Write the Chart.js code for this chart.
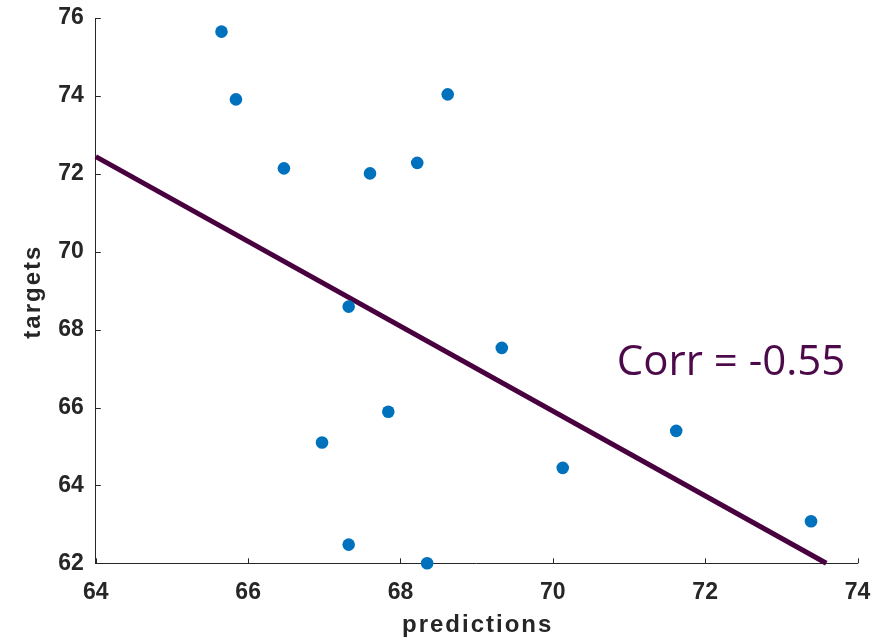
<!DOCTYPE html>
<html>
<head>
<meta charset="utf-8">
<script src="https://cdn.jsdelivr.net/npm/chart.js@4/dist/chart.umd.min.js"></script>
<style>
  html, body { margin: 0; padding: 0; background: #ffffff; }
  #wrap { width: 892px; height: 637px; position: relative; }
</style>
</head>
<body>
<div id="wrap"><canvas id="c" width="892" height="637"></canvas></div>
<script>
// Model predictions vs. observed targets
const predictions = [65.65, 65.84, 66.47, 67.60, 68.22, 68.62, 67.32, 69.33, 67.84, 66.97, 67.32, 68.35, 70.13, 71.62, 73.39];
const targets     = [75.65, 73.91, 72.14, 72.01, 72.28, 74.04, 68.59, 67.53, 65.89, 65.10, 62.48, 62.00, 64.45, 65.40, 63.08];

// Fitted trend line end points
const fitX = [64.0, 73.59];
const fitY = [72.44, 62.0];

// Axis tick values
const xTicks = [64, 66, 68, 70, 72, 74];
const yTicks = [62, 64, 66, 68, 70, 72, 74, 76];

// Axis titles
const xTitle = 'predictions';
const yTitle = 'targets';

// Annotation
const corrLabel = 'Corr = -0.55';
const corrAnchor = { x: 70.84, y: 66.83 };

const AXIS_COLOR = '#262626';
const SANS = "'Liberation Sans', Arial, Helvetica, sans-serif";
const TICK_FONT = { family: SANS, size: 23, weight: 'bold' };

const scatterPoints = predictions.map((p, i) => ({ x: p, y: targets[i] }));
const fitPoints = fitX.map((x, i) => ({ x: x, y: fitY[i] }));

// Short inward tick marks along the left and bottom axes
const inwardTicks = {
  id: 'inwardTicks',
  afterDraw(chart) {
    const ctx = chart.ctx;
    const xs = chart.scales.x, ys = chart.scales.y;
    const len = 5;
    ctx.save();
    ctx.strokeStyle = AXIS_COLOR;
    ctx.lineWidth = 1;
    ctx.beginPath();
    xTicks.forEach(v => {
      const px = Math.round(xs.getPixelForValue(v)) + 0.5;
      ctx.moveTo(px, ys.bottom);
      ctx.lineTo(px, ys.bottom - len);
    });
    yTicks.forEach(v => {
      const py = Math.round(ys.getPixelForValue(v)) + 0.5;
      ctx.moveTo(xs.left, py);
      ctx.lineTo(xs.left + len, py);
    });
    ctx.stroke();
    ctx.restore();
  }
};

// Letter-spaced bold axis titles
const axisTitles = {
  id: 'axisTitles',
  afterDraw(chart) {
    const ctx = chart.ctx;
    const area = chart.chartArea;
    ctx.save();
    ctx.font = 'bold 24px ' + SANS;
    ctx.fillStyle = AXIS_COLOR;
    ctx.letterSpacing = '2px';
    ctx.textAlign = 'center';
    ctx.textBaseline = 'alphabetic';
    ctx.fillText(xTitle, (area.left + area.right) / 2 + 1, 632);
    ctx.translate(40, (area.top + area.bottom) / 2 + 1);
    ctx.rotate(-Math.PI / 2);
    ctx.fillText(yTitle, 0, 0);
    ctx.restore();
  }
};

// Correlation text placed in data space
const corrText = {
  id: 'corrText',
  afterDraw(chart) {
    const ctx = chart.ctx;
    const px = chart.scales.x.getPixelForValue(corrAnchor.x);
    const py = chart.scales.y.getPixelForValue(corrAnchor.y);
    ctx.save();
    ctx.font = "42px 'Open Sans', 'Noto Sans', sans-serif";
    ctx.fillStyle = '#4D0A4B';
    ctx.textAlign = 'left';
    ctx.textBaseline = 'alphabetic';
    ctx.fillText(corrLabel, px, py);
    ctx.restore();
  }
};

new Chart(document.getElementById('c'), {
  data: {
    datasets: [
      {
        type: 'line',
        data: fitPoints,
        borderColor: '#48003F',
        borderWidth: 5,
        pointRadius: 0,
        fill: false,
        tension: 0,
        order: 2,
        clip: false
      },
      {
        type: 'scatter',
        data: scatterPoints,
        backgroundColor: '#0072BD',
        borderWidth: 0,
        pointRadius: 6.3,
        pointHoverRadius: 6.3,
        order: 1,
        clip: false
      }
    ]
  },
  options: {
    responsive: false,
    animation: false,
    events: [],
    layout: { padding: { left: 0, right: 34.5, top: 18, bottom: 0 } },
    plugins: { legend: { display: false }, tooltip: { enabled: false } },
    scales: {
      x: {
        type: 'linear',
        min: 64, max: 74,
        afterBuildTicks: s => { s.ticks = xTicks.map(v => ({ value: v })); },
        afterFit: s => { s.height = 73.7; s.paddingLeft = 0; s.paddingRight = 0; },
        grid: { display: false, drawTicks: false },
        border: { display: true, color: AXIS_COLOR, width: 1 },
        ticks: { color: AXIS_COLOR, font: TICK_FONT, padding: 16, maxRotation: 0 }
      },
      y: {
        type: 'linear',
        min: 62, max: 76,
        afterBuildTicks: s => { s.ticks = yTicks.map(v => ({ value: v })); },
        afterFit: s => { s.width = 95.8; s.paddingTop = 0; s.paddingBottom = 0; },
        grid: { display: false, drawTicks: false },
        border: { display: true, color: AXIS_COLOR, width: 1 },
        ticks: { color: AXIS_COLOR, font: TICK_FONT, padding: 12 }
      }
    }
  },
  plugins: [inwardTicks, axisTitles, corrText]
});
</script>
</body>
</html>
